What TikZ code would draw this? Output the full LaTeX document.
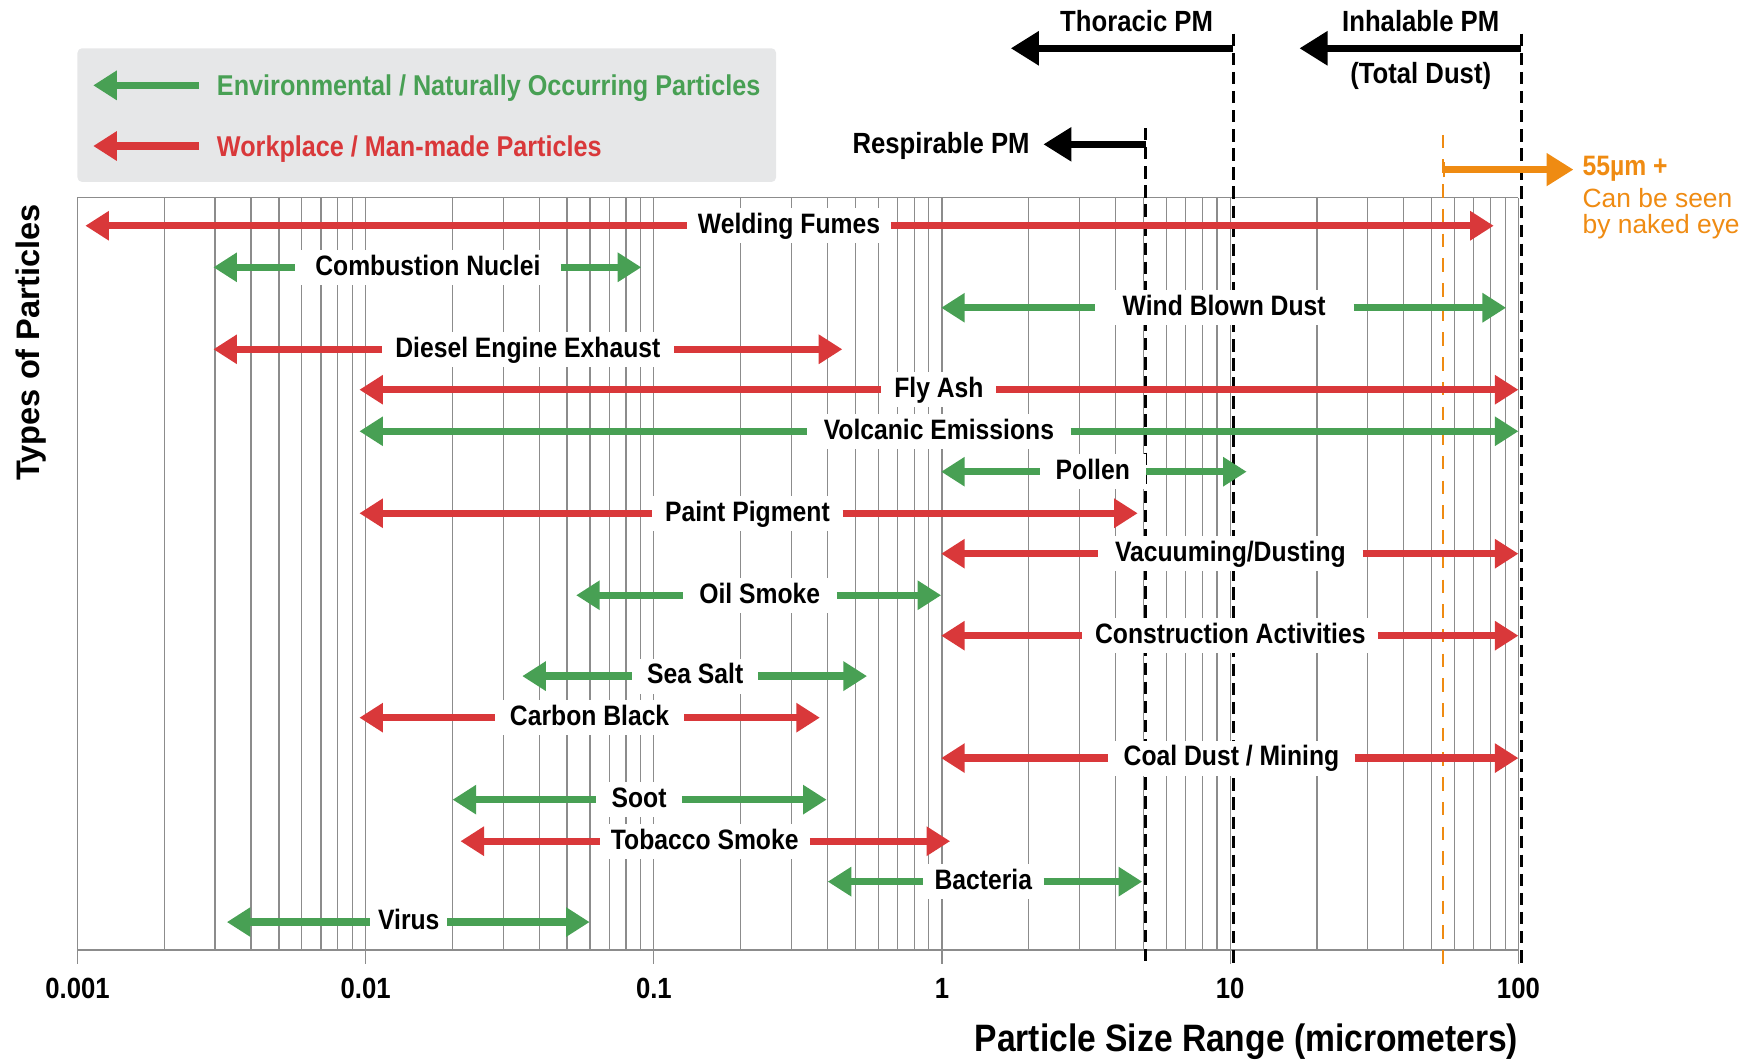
\documentclass[tikz,border=0pt]{standalone}
\usepackage{fontspec}
\setmainfont{Liberation Sans}
\newfontfamily\cond{Liberation Sans}[FakeStretch=0.88]
\usetikzlibrary{arrows.meta}
\definecolor{pred}{RGB}{217,56,58}
\definecolor{pgreen}{RGB}{72,160,84}
\definecolor{porange}{RGB}{239,139,18}
\definecolor{legbg}{RGB}{230,231,232}
\definecolor{gridc}{RGB}{140,140,140}
\tikzset{
  gridline/.style={draw=gridc, line width=1.1pt},
  rowlabel/.style={fill=white, inner xsep=1pt, inner ysep=4pt, text height=18.5pt, text depth=4.5pt, anchor=base, font=\cond\bfseries\fontsize{25}{25}\selectfont},
  barL/.style={line width=6.5pt, {Triangle[length=21pt,width=25pt]}-},
  barR/.style={line width=6.5pt, -{Triangle[length=21pt,width=25pt]}},
  blackarrow/.style={line width=6.5pt, -{Triangle[length=25pt,width=29pt]}},
  refdash/.style={line width=2.4pt, dash pattern=on 11pt off 6pt},
  orangedash/.style={draw=porange, line width=2pt, dash pattern=on 12pt off 10pt},
  toplabel/.style={inner sep=0pt, font=\cond\bfseries\fontsize{26}{26}\selectfont},
  legtext/.style={inner sep=0pt, anchor=base west, font=\cond\bfseries\fontsize{25.5}{25.5}\selectfont},
  ticklabel/.style={inner sep=0pt, font=\cond\bfseries\fontsize{26}{26}\selectfont},
}
\newcommand\rowbar[8]{%
  \pgfmathsetmacro\rbc{(#4+#5)/2}%
  \pgfmathsetmacro\rbw{#5-#4}%
  \coordinate (#1L) at (#3,#2);
  \coordinate (#1R) at (#6,#2);
  \node[rowlabel, minimum width=\rbw pt] (#1) at (\rbc,#2+7) {#8};
  \draw[barL, color=#7] (#1L) -- (#1.west |- #1L);
  \draw[barR, color=#7] (#1.east |- #1R) -- (#1R);
}
\begin{document}
\begin{tikzpicture}[x=1pt,y=-1pt]
\useasboundingbox (0,0) rectangle (1568,946);
% legend
\fill[legbg, rounded corners=4pt] (69,43) rectangle (691,162);
\coordinate (lgT) at (83,76); \coordinate (lgE) at (177,76);
\draw[barL, color=pgreen] (lgT) -- (lgE);
\node[legtext, text=pgreen] (lgg) at (193,85) {Environmental / Naturally Occurring Particles};
\coordinate (lrT) at (83,130); \coordinate (lrE) at (177,130);
\draw[barL, color=pred] (lrT) -- (lrE);
\node[legtext, text=pred] (lgr) at (193,139) {Workplace / Man-made Particles};
% grid
\foreach \d in {0,...,4}{\foreach \m in {1,...,9}{%
  \draw[gridline] ({69+(\d+log10(\m))*256.6},176) -- ({69+(\d+log10(\m))*256.6},846);}}
\draw[gridline] (1352,176) -- (1352,846);
\draw[gridline] (69,176) -- (1352,176);
\draw[draw=gridc, line width=2.2pt] (69,846) -- (1352,846);
\foreach \d in {0,...,5} \draw[gridline] ({69+\d*256.6},846) -- ({69+\d*256.6},858);
\foreach \d/\t in {0/0.001,1/0.01,2/0.1,3/1,4/10,5/100}
  \node[ticklabel] (tk\d) at ({69+\d*256.6},880) {\t};
% reference dashed lines
\draw[refdash] (1098,30) -- (1098,858);
\draw[refdash] (1354.5,30) -- (1354.5,858);
\draw[refdash] (1020,114) -- (1020,858);
\draw[orangedash] (1284.5,120) -- (1284.5,865);
% top arrows
\coordinate (thS) at (1098,43); \coordinate (thE) at (900,43);
\draw[blackarrow] (thS) -- (thE);
\node[toplabel, anchor=base] (thl) at (1012,28) {Thoracic PM};
\coordinate (inS) at (1354.5,43); \coordinate (inE) at (1157,43);
\draw[blackarrow] (inS) -- (inE);
\node[toplabel, anchor=base] (inl) at (1265,28) {Inhalable PM};
\node[toplabel, anchor=base] (tdl) at (1265,74) {(Total Dust)};
\coordinate (reS) at (1020,128.5); \coordinate (reE) at (929,128.5);
\draw[blackarrow] (reS) -- (reE);
\node[toplabel, anchor=base east] (rel) at (917,137) {Respirable PM};
% orange
\coordinate (oS) at (1284.5,151); \coordinate (oE) at (1401,151);
\draw[porange, line width=6.5pt, {Bar[width=14pt,line width=2pt]}-{Triangle[length=24pt,width=28pt]}] (oS) -- (oE);
\node[anchor=base west, inner sep=0, text=porange, font=\cond\bfseries\fontsize{25}{25}\selectfont] (o55) at (1409,156) {55µm +};
\node[anchor=base west, inner sep=0, text=porange, font=\fontsize{23.5}{23.5}\selectfont] (oc1) at (1409,184.5) {Can be seen};
\node[anchor=base west, inner sep=0, text=porange, font=\fontsize{23.5}{23.5}\selectfont] (oc2) at (1409,208) {by naked eye};
% rows
\rowbar{wf}{201}{76}{612}{793}{1330}{pred}{Welding Fumes}
\rowbar{cn}{238}{190}{263}{499}{571}{pgreen}{Combustion Nuclei}
\rowbar{wb}{274}{838}{975}{1205}{1341}{pgreen}{Wind Blown Dust}
\rowbar{de}{311}{190}{340}{600}{750}{pred}{Diesel Engine Exhaust}
\rowbar{fa}{347}{320}{785}{887}{1352}{pred}{Fly Ash}
\rowbar{ve}{384}{320}{719}{953}{1352}{pgreen}{Volcanic Emissions}
\rowbar{po}{420}{838}{926}{1020}{1110}{pgreen}{Pollen}
\rowbar{pp}{457}{320}{581}{750}{1013}{pred}{Paint Pigment}
\rowbar{vd}{493}{838}{978}{1213}{1352}{pred}{Vacuuming/Dusting}
\rowbar{os}{530}{513}{608}{745}{838}{pgreen}{Oil Smoke}
\rowbar{ca}{566}{838}{964}{1227}{1352}{pred}{Construction Activities}
\rowbar{ss}{602}{465}{563}{675}{772}{pgreen}{Sea Salt}
\rowbar{cb}{639}{320}{441}{609}{730}{pred}{Carbon Black}
\rowbar{cd}{675}{838}{987}{1206}{1352}{pred}{Coal Dust / Mining}
\rowbar{so}{712}{403}{531}{607}{736}{pgreen}{Soot}
\rowbar{ts}{749}{410}{534}{721}{846}{pred}{Tobacco Smoke}
\rowbar{ba}{785}{737}{822}{929}{1017}{pgreen}{Bacteria}
\rowbar{vi}{821}{202}{330}{398}{525}{pgreen}{Virus}
% axis titles
\node[anchor=base east, inner sep=0, font=\cond\bfseries\fontsize{34}{34}\selectfont] (xt) at (1352,936) {Particle Size Range (micrometers)};
\node[rotate=90, anchor=base, inner sep=0, font=\bfseries\fontsize{29}{29}\selectfont] (yt) at (35,305) {Types of Particles};
\end{tikzpicture}
\end{document}
